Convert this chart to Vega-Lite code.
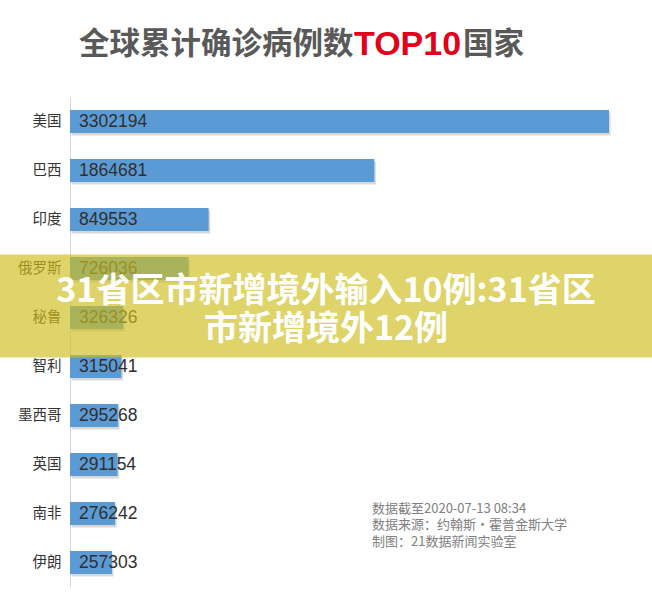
{
  "$schema": "https://vega.github.io/schema/vega-lite/v6.json",
  "width": 539,
  "height": 490,
  "autosize": {"type": "none"},
  "padding": {"left": 70, "top": 97, "right": 43, "bottom": 27},
  "background": "white",
  "config": {"view": {"stroke": null}},
  "datasets": {
    "cases": [
      {"country": "美国", "cases": 3302194},
      {"country": "巴西", "cases": 1864681},
      {"country": "印度", "cases": 849553},
      {"country": "俄罗斯", "cases": 726036},
      {"country": "秘鲁", "cases": 326326},
      {"country": "智利", "cases": 315041},
      {"country": "墨西哥", "cases": 295268},
      {"country": "英国", "cases": 291154},
      {"country": "南非", "cases": 276242},
      {"country": "伊朗", "cases": 257303}
    ],
    "one": [{"note": "annotation"}]
  },
  "encoding": {
    "y": {
      "field": "country",
      "type": "nominal",
      "sort": null,
      "scale": {"type": "band", "paddingInner": 0.53, "paddingOuter": 0.265, "domain": ["美国","巴西","印度","俄罗斯","秘鲁","智利","墨西哥","英国","南非","伊朗"]},
      "axis": {
        "title": null,
        "ticks": false,
        "domainColor": "#d9d9d9",
        "labelPadding": 9,
        "labelFont": "Noto Sans CJK SC",
        "labelFontSize": 14.5,
        "labelColor": "#333333"
      }
    }
  },
  "layer": [
    {
      "data": {"name": "cases"},
      "mark": {"type": "bar", "color": "#7f7f7f", "opacity": 0.3, "xOffset": 1.5, "yOffset": 2.5},
      "encoding": {
        "x": {"field": "cases", "type": "quantitative", "scale": {"domain": [0, 3302194], "nice": false, "zero": true}, "axis": null}
      }
    },
    {
      "data": {"name": "cases"},
      "mark": {"type": "bar", "color": "#5B9BD5"},
      "encoding": {
        "x": {"field": "cases", "type": "quantitative"}
      }
    },
    {
      "data": {"name": "cases"},
      "mark": {"type": "text", "align": "left", "baseline": "middle", "dx": 9, "font": "Liberation Sans", "fontSize": 17.5, "color": "#2f2f2f"},
      "encoding": {
        "x": {"datum": 0, "type": "quantitative"},
        "text": {"field": "cases", "type": "quantitative", "format": "d"}
      }
    },
    {
      "data": {"name": "one"},
      "mark": {"type": "rect", "color": "#D0BF1F", "opacity": 0.67, "clip": false, "yOffset": -14, "y2Offset": -9},
      "encoding": {
        "x": {"datum": -428850, "type": "quantitative"},
        "x2": {"datum": 3565620},
        "y": {"datum": "俄罗斯"},
        "y2": {"datum": "智利"}
      }
    },
    {
      "data": {"name": "one"},
      "mark": {"type": "text", "align": "center", "baseline": "middle", "font": "Noto Sans CJK SC", "fontWeight": "bold", "fontSize": 34, "lineHeight": 38, "lineBreak": "\n", "color": "white", "text": "31省区市新增境外输入10例:31省区\n市新增境外12例"},
      "encoding": {
        "x": {"datum": 1568400, "type": "quantitative"},
        "y": {"datum": "秘鲁", "bandPosition": -0.609}
      }
    },
    {
      "data": {"name": "one"},
      "mark": {"type": "text", "align": "left", "baseline": "middle", "font": "Noto Sans CJK SC", "fontWeight": "bold", "fontSize": 30.5, "color": "#595959", "text": "全球累计确诊病例数"},
      "encoding": {
        "x": {"datum": 55138, "type": "quantitative"},
        "y": {"datum": "美国", "bandPosition": -2.826}
      }
    },
    {
      "data": {"name": "one"},
      "mark": {"type": "text", "align": "left", "baseline": "middle", "font": "Liberation Sans", "fontWeight": "bold", "fontSize": 34, "color": "#E2001A", "text": "TOP10"},
      "encoding": {
        "x": {"datum": 1739900, "type": "quantitative"},
        "y": {"datum": "美国", "bandPosition": -2.826}
      }
    },
    {
      "data": {"name": "one"},
      "mark": {"type": "text", "align": "left", "baseline": "middle", "font": "Noto Sans CJK SC", "fontWeight": "bold", "fontSize": 30.5, "color": "#595959", "text": "国家"},
      "encoding": {
        "x": {"datum": 2407700, "type": "quantitative"},
        "y": {"datum": "美国", "bandPosition": -2.826}
      }
    },
    {
      "data": {"name": "one"},
      "mark": {"type": "text", "align": "left", "baseline": "middle", "font": "Noto Sans CJK SC", "fontSize": 13, "lineHeight": 16.5, "lineBreak": "\n", "color": "#808080", "text": "数据截至2020-07-13 08:34\n数据来源：约翰斯・霍普金斯大学\n制图：21数据新闻实验室"},
      "encoding": {
        "x": {"datum": 1850200, "type": "quantitative"},
        "y": {"datum": "南非", "bandPosition": 0.283}
      }
    }
  ]
}
